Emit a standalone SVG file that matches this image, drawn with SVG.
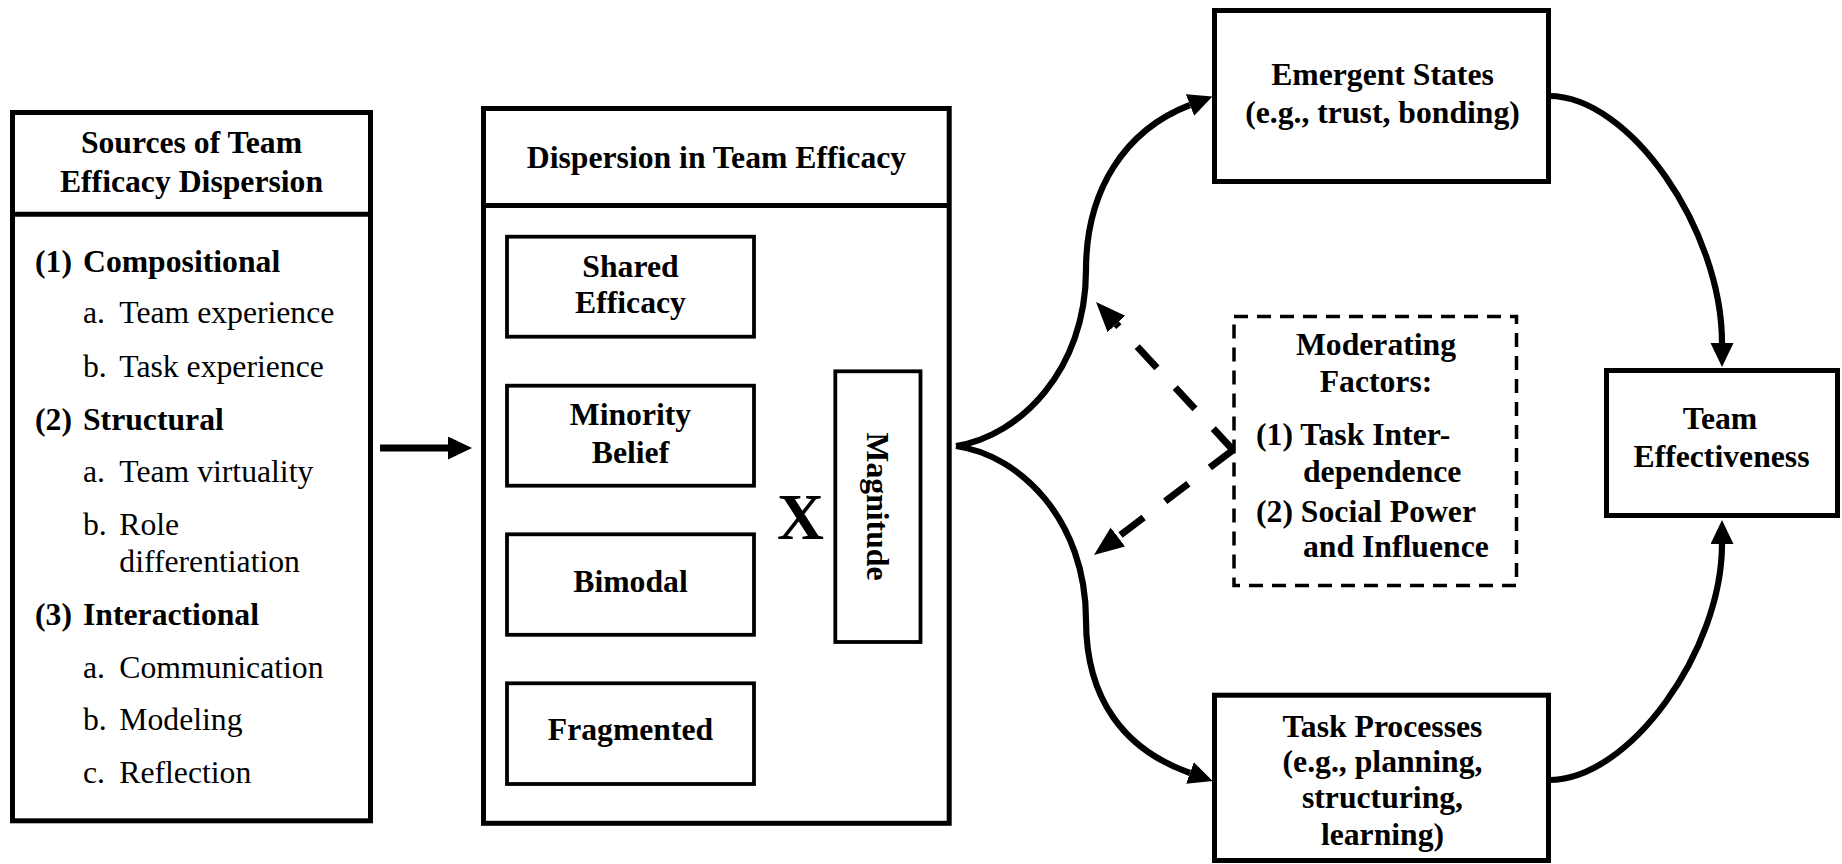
<svg xmlns="http://www.w3.org/2000/svg" width="1842" height="864" viewBox="0 0 1842 864">
<style>
.box{fill:#fff;stroke:#000;stroke-width:5}
.ibox{fill:#fff;stroke:#000;stroke-width:3.8}
.dbox{fill:#fff;stroke:#000;stroke-width:3.5;stroke-dasharray:14 9}
.t{font-family:"Liberation Serif","Times New Roman",serif;font-size:31.7px;fill:#000}
.b{font-weight:bold}
.c{text-anchor:middle}
.conn{fill:none;stroke:#000;stroke-width:6.2}
.dash{fill:none;stroke:#000;stroke-width:7;stroke-dasharray:29 27}
</style>
<defs>
<marker id="ah" markerUnits="userSpaceOnUse" markerWidth="30" markerHeight="30" refX="0" refY="11.5" orient="auto">
<path d="M0,0 L24,11.5 L0,23 Z" fill="#000"/>
</marker>
<marker id="ahd" markerUnits="userSpaceOnUse" markerWidth="34" markerHeight="30" refX="0" refY="12" orient="auto">
<path d="M0,0 L30,12 L0,24 Z" fill="#000"/>
</marker>
</defs>

<g id="node-sources">
<rect class="box" x="12.5" y="112.5" width="358" height="708.3"/>
<line x1="12.5" y1="214.2" x2="370.5" y2="214.2" stroke="#000" stroke-width="5"/>
<text class="t b c" x="191.5" y="153.3">Sources of Team</text>
<text class="t b c" x="191.5" y="191.7">Efficacy Dispersion</text>
<text class="t b" y="271.7"><tspan x="35">(1)</tspan><tspan x="83">Compositional</tspan></text>
<text class="t" y="322.7"><tspan x="83">a.</tspan><tspan x="119.3">Team experience</tspan></text>
<text class="t" y="376.7"><tspan x="83">b.</tspan><tspan x="119.3">Task experience</tspan></text>
<text class="t b" y="430"><tspan x="35">(2)</tspan><tspan x="83">Structural</tspan></text>
<text class="t" y="481.7"><tspan x="83">a.</tspan><tspan x="119.3">Team virtuality</tspan></text>
<text class="t" y="535"><tspan x="83">b.</tspan><tspan x="119.3">Role</tspan></text>
<text class="t" x="119.3" y="571.7">differentiation</text>
<text class="t b" y="625"><tspan x="35">(3)</tspan><tspan x="83">Interactional</tspan></text>
<text class="t" y="678.3"><tspan x="83">a.</tspan><tspan x="119.3">Communication</tspan></text>
<text class="t" y="730"><tspan x="83">b.</tspan><tspan x="119.3">Modeling</tspan></text>
<text class="t" y="783.3"><tspan x="83">c.</tspan><tspan x="119.3">Reflection</tspan></text>
</g>

<g id="node-dispersion">
<rect class="box" x="483.5" y="108.5" width="465.7" height="714.8"/>
<line x1="483.5" y1="205.5" x2="949.2" y2="205.5" stroke="#000" stroke-width="5"/>
<text class="t b c" x="716.5" y="168">Dispersion in Team Efficacy</text>
<text class="t b c" x="800.4" y="539.3" style="font-size:65px">X</text>
</g>

<g id="node-shared">
<rect class="ibox" x="507" y="236.7" width="247" height="100"/>
<text class="t b c" x="630.5" y="277">Shared</text>
<text class="t b c" x="630.5" y="313">Efficacy</text>
</g>
<g id="node-minority">
<rect class="ibox" x="507" y="385.7" width="247" height="100"/>
<text class="t b c" x="630.5" y="425">Minority</text>
<text class="t b c" x="630.5" y="463">Belief</text>
</g>
<g id="node-bimodal">
<rect class="ibox" x="507" y="534.3" width="247" height="100.5"/>
<text class="t b c" x="630.5" y="592">Bimodal</text>
</g>
<g id="node-fragmented">
<rect class="ibox" x="507" y="683.3" width="247" height="100.7"/>
<text class="t b c" x="630.5" y="740">Fragmented</text>
</g>
<g id="node-magnitude">
<rect class="ibox" x="835.3" y="371.3" width="85.2" height="270.7"/>
<text class="t b c" transform="translate(867,506.5) rotate(90)" x="0" y="0">Magnitude</text>
</g>

<g id="node-emergent">
<rect class="box" x="1214.5" y="10.5" width="334" height="171"/>
<text class="t b c" x="1382.5" y="85">Emergent States</text>
<text class="t b c" x="1382.5" y="123">(e.g., trust, bonding)</text>
</g>

<g id="node-moderating">
<rect class="dbox" x="1234" y="316.5" width="282.5" height="269"/>
<text class="t b c" x="1376" y="355">Moderating</text>
<text class="t b c" x="1376" y="392">Factors:</text>
<text class="t b" x="1256" y="445">(1) Task Inter-</text>
<text class="t b" x="1303" y="482">dependence</text>
<text class="t b" x="1256" y="522">(2) Social Power</text>
<text class="t b" x="1303" y="557">and Influence</text>
</g>

<g id="node-task">
<rect class="box" x="1214.5" y="695.2" width="334" height="165.3"/>
<text class="t b c" x="1382.5" y="737">Task Processes</text>
<text class="t b c" x="1382.5" y="772">(e.g., planning,</text>
<text class="t b c" x="1382.5" y="808">structuring,</text>
<text class="t b c" x="1382.5" y="845">learning)</text>
</g>

<g id="node-effectiveness">
<rect class="box" x="1606.5" y="370.5" width="231" height="145"/>
<text class="t b c" x="1720" y="428.6">Team</text>
<text class="t b c" x="1721.5" y="467">Effectiveness</text>
</g>

<g id="connectors">
<path class="conn" d="M380,448 L448,448" style="stroke-width:7" marker-end="url(#ah)"/>
<path class="conn" d="M956,446 C1020,436 1086,370 1086,270 C1086,190 1125,130 1190,105" marker-end="url(#ah)"/>
<path class="conn" d="M956,446 C1020,455 1086,520 1086,620 C1086,700 1125,750 1190,773" marker-end="url(#ah)"/>
<path class="conn" d="M1549,96 C1630,96 1722,230 1722,343" marker-end="url(#ah)"/>
<path class="conn" d="M1549,780 C1630,780 1722,650 1722,544" marker-end="url(#ah)"/>
<path class="dash" d="M1233,450 L1116.4,324" marker-end="url(#ahd)"/>
<path class="dash" d="M1233,450 L1117.9,537" marker-end="url(#ahd)"/>
</g>
</svg>
